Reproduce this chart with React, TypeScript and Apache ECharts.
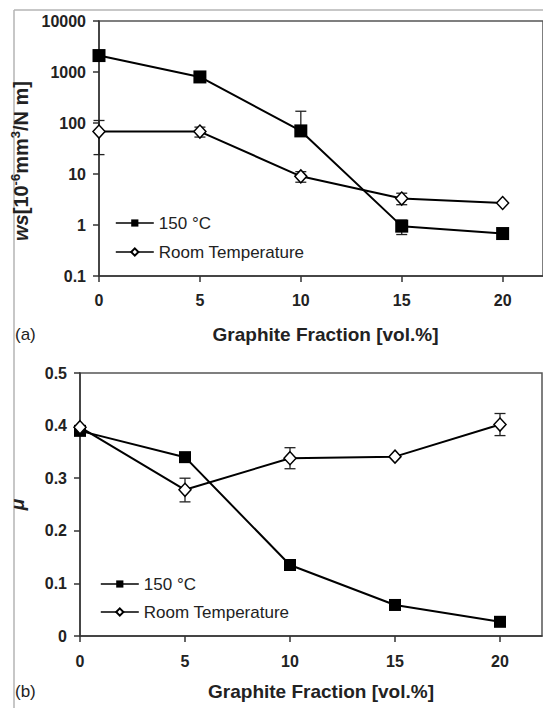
import React, { useEffect, useRef } from "react";
import * as echarts from "echarts";

const xTicks = [0, 5, 10, 15, 20];
const graphite = [0, 5, 10, 15, 20];
const ws150 = [2100, 800, 70, 0.95, 0.68];
const wsRT = [68, 68, 9, 3.3, 2.7];
const ws150Err = [
  [10, 70, 170],
  [15, 0.65, 1.25],
];
const wsRTErr = [
  [0, 24, 112],
  [5, 53, 83],
  [10, 6.9, 11.1],
  [15, 2.5, 4.2],
];
const wsTicks = [0.1, 1, 10, 100, 1000, 10000];
const mu150 = [0.39, 0.34, 0.135, 0.059, 0.027];
const muRT = [0.397, 0.278, 0.338, 0.341, 0.402];
const muRTErr = [
  [5, 0.255, 0.3],
  [10, 0.318, 0.358],
  [20, 0.381, 0.423],
];
const muTicks = [0, 0.1, 0.2, 0.3, 0.4, 0.5];
const seriesNames = ["150 °C", "Room Temperature"];

const FONT = "'Liberation Sans', Arial, sans-serif";
const AXIS = "#333";

function pairs(xs: number[], ys: number[]) {
  return xs.map((x, i) => [x, ys[i]]);
}

function errRender(params: any, api: any) {
  const x = api.value(0);
  const lo = api.value(1);
  const hi = api.value(2);
  const p1 = api.coord([x, lo]);
  const p2 = api.coord([x, hi]);
  const w = 5.5;
  const st = { stroke: "#222", lineWidth: 1.3 };
  return {
    type: "group",
    children: [
      { type: "line", shape: { x1: p1[0], y1: p1[1], x2: p2[0], y2: p2[1] }, style: st },
      { type: "line", shape: { x1: p1[0] - w, y1: p1[1], x2: p1[0] + w, y2: p1[1] }, style: st },
      { type: "line", shape: { x1: p2[0] - w, y1: p2[1], x2: p2[0] + w, y2: p2[1] }, style: st },
    ],
  };
}

function xAxisCfg(gridIndex: number, nameGap: number, padLeft: number, labelMargin: number) {
  return {
    type: "value",
    gridIndex,
    min: 0,
    max: 22,
    interval: 5,
    name: "Graphite Fraction [vol.%]",
    nameLocation: "middle",
    nameGap,
    nameTextStyle: {
      fontFamily: FONT,
      fontSize: 19,
      fontWeight: "bold",
      color: "#222",
      padding: [0, 0, 0, padLeft],
    },
    axisLine: { show: true, lineStyle: { color: AXIS, width: 1.5 } },
    axisTick: { show: true, length: 6, inside: false, customValues: xTicks, lineStyle: { color: AXIS, width: 1.5 } },
    axisLabel: {
      customValues: xTicks,
      margin: labelMargin,
      fontFamily: FONT,
      fontSize: 16,
      fontWeight: "bold",
      color: "#222",
    },
    splitLine: { show: false },
  };
}

export default function App() {
  const ref = useRef<HTMLDivElement>(null);
  useEffect(() => {
    if (!ref.current) return;
    const chart = echarts.init(ref.current, null, { renderer: "svg" });
    const lineStyle = { color: "#000", width: 2 };
    const sq = (size: number) => ({
      symbol: "rect",
      symbolSize: size,
      itemStyle: { color: "#000", borderColor: "#000", borderWidth: 0 },
    });
    const dia = {
      symbol: "diamond",
      symbolSize: [12, 13],
      itemStyle: { color: "#fff", borderColor: "#000", borderWidth: 1.5 },
    };
    const legendCommon = {
      orient: "vertical",
      itemWidth: 38,
      itemHeight: 9,
      padding: 0,
      data: seriesNames,
      selectedMode: false,
      lineStyle: { width: 1.6 },
      textStyle: { fontFamily: FONT, fontSize: 17, color: "#222", lineHeight: 17 },
    };
    chart.setOption({
      animation: false,
      backgroundColor: "#fff",
      grid: [
        { left: 99, top: 21, width: 447, height: 255, show: true, borderColor: "#555", borderWidth: 1.5, backgroundColor: "transparent" },
        { left: 80, top: 373, width: 462, height: 263, show: true, borderColor: "#555", borderWidth: 1.5, backgroundColor: "transparent" },
      ],
      legend: [
        { ...legendCommon, left: 115, top: 214.5, itemGap: 12 },
        { ...legendCommon, left: 100, top: 575.5, itemGap: 11 },
      ],
      xAxis: [xAxisCfg(0, 49, 9, 16), xAxisCfg(1, 46, 20, 17)],
      yAxis: [
        {
          type: "log",
          gridIndex: 0,
          logBase: 10,
          min: 0.1,
          max: 10000,
          interval: 1,
          name: "{i|ws}{n|[10}{s|-6}{n|mm}{s|3}{n|/N m]}",
          nameLocation: "middle",
          nameGap: 64,
          nameTextStyle: {
            padding: [0, 25, 0, 0],
            rich: {
              i: { fontFamily: FONT, fontSize: 20, fontWeight: "bold", fontStyle: "italic", color: "#222", lineHeight: 23 },
              n: { fontFamily: FONT, fontSize: 20, fontWeight: "bold", color: "#222", lineHeight: 23 },
              s: { fontFamily: FONT, fontSize: 13, fontWeight: "bold", color: "#222", lineHeight: 13, verticalAlign: "top" },
            },
          },
          axisLine: { show: true, lineStyle: { color: AXIS, width: 1.5 } },
          axisTick: { show: true, length: 6, inside: false, customValues: wsTicks, lineStyle: { color: AXIS, width: 1.5 } },
          axisLabel: {
            customValues: wsTicks,
            margin: 13,
            fontFamily: FONT,
            fontSize: 16,
            fontWeight: "bold",
            color: "#222",
            formatter: (v: number) => String(parseFloat(Number(v).toPrecision(6))),
          },
          splitLine: { show: false },
        },
        {
          type: "value",
          gridIndex: 1,
          min: 0,
          max: 0.5,
          interval: 0.1,
          name: "μ",
          nameLocation: "middle",
          nameGap: 53,
          nameTextStyle: { fontFamily: FONT, fontSize: 19, fontWeight: "bold", fontStyle: "italic", color: "#222" },
          axisLine: { show: true, lineStyle: { color: AXIS, width: 1.5 } },
          axisTick: { show: true, length: 6, inside: false, customValues: muTicks, lineStyle: { color: AXIS, width: 1.5 } },
          axisLabel: {
            customValues: muTicks,
            margin: 13,
            fontFamily: FONT,
            fontSize: 16,
            fontWeight: "bold",
            color: "#222",
          },
          splitLine: { show: false },
        },
      ],
      graphic: [
        { type: "line", shape: { x1: 14, y1: 10, x2: 543, y2: 10 }, style: { stroke: "#b4b4b4", lineWidth: 1.5 } },
        { type: "line", shape: { x1: 14, y1: 10, x2: 14, y2: 708 }, style: { stroke: "#b4b4b4", lineWidth: 1.5 } },
        { type: "text", left: 15, top: 326, style: { text: "(a)", font: `17px ${FONT}`, fill: "#222" } },
        { type: "text", left: 15, top: 683, style: { text: "(b)", font: `17px ${FONT}`, fill: "#222" } },
      ],
      series: [
        { type: "custom", name: "err150a", xAxisIndex: 0, yAxisIndex: 0, z: 1, renderItem: errRender, data: ws150Err, encode: { x: 0, y: [1, 2] } },
        { type: "custom", name: "errRTa", xAxisIndex: 0, yAxisIndex: 0, z: 1, renderItem: errRender, data: wsRTErr, encode: { x: 0, y: [1, 2] } },
        { type: "custom", name: "errRTb", xAxisIndex: 1, yAxisIndex: 1, z: 1, renderItem: errRender, data: muRTErr, encode: { x: 0, y: [1, 2] } },
        { type: "line", name: seriesNames[0], xAxisIndex: 0, yAxisIndex: 0, z: 3, data: pairs(graphite, ws150), lineStyle, ...sq(13) },
        { type: "line", name: seriesNames[1], xAxisIndex: 0, yAxisIndex: 0, z: 3, data: pairs(graphite, wsRT), lineStyle, ...dia },
        { type: "line", name: seriesNames[0], xAxisIndex: 1, yAxisIndex: 1, z: 3, data: pairs(graphite, mu150), lineStyle, ...sq(12) },
        { type: "line", name: seriesNames[1], xAxisIndex: 1, yAxisIndex: 1, z: 3, data: pairs(graphite, muRT), lineStyle, ...dia },
      ],
    });
    return () => chart.dispose();
  }, []);
  return (
    <div
      ref={ref}
      style={{ position: "absolute", left: 0, top: 0, width: 543, height: 708 }}
    />
  );
}
